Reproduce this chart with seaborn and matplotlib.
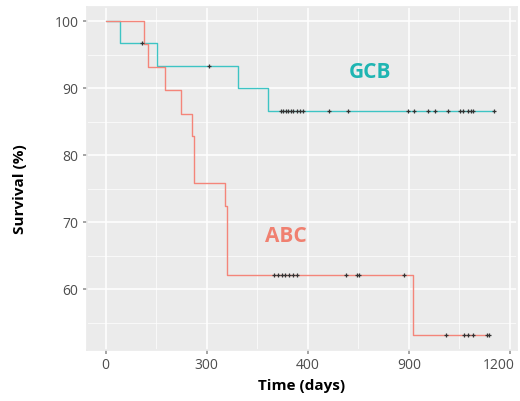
import numpy as np
import pandas as pd
import matplotlib
matplotlib.use("Agg")
import matplotlib.pyplot as plt
import matplotlib.transforms as mtransforms
import seaborn as sns

# Kaplan-Meier steps
gcb_time = [0, 42, 153, 392, 481, 1152]
gcb_surv = [100, 96.7, 93.3, 90.0, 86.6, 86.6]
gcb_cens = [107, 306, 520, 526, 535, 541, 549, 555, 567, 576, 585, 662, 719,
            897, 915, 956, 977, 1016, 1051, 1060, 1075, 1084, 1090, 1152]

abc_time = [0, 113, 125, 175, 223, 255, 261, 353, 359, 912, 1138]
abc_surv = [100, 96.6, 93.1, 89.7, 86.2, 82.8, 75.9, 72.4, 62.1, 53.1, 53.1]
abc_cens = [499, 511, 523, 532, 544, 556, 567, 713, 746, 752, 885,
            1010, 1063, 1075, 1090, 1132, 1138]

x_ticks = [0, 300, 600, 900, 1200]
x_labels = ['0', '300', '400', '900', '1200']
y_ticks = [60, 70, 80, 90, 100]

colors = {'GCB': '#3EC4C4', 'ABC': '#F4857A'}

sns.set_theme(style="darkgrid", rc={
    'axes.facecolor': '#EBEBEB',
    'grid.color': 'white',
    'axes.edgecolor': '#EBEBEB',
})
plt.rcParams['font.family'] = ['Open Sans', 'DejaVu Sans']

curves = pd.concat([
    pd.DataFrame({'group': 'GCB', 'time': gcb_time, 'surv': gcb_surv}),
    pd.DataFrame({'group': 'ABC', 'time': abc_time, 'surv': abc_surv}),
], ignore_index=True)


def censor_frame(name, times, steps_t, steps_s):
    idx = np.searchsorted(steps_t, times, side='right') - 1
    return pd.DataFrame({'group': name, 'time': times,
                         'surv': np.array(steps_s)[idx]})


cens = pd.concat([
    censor_frame('GCB', gcb_cens, gcb_time, gcb_surv),
    censor_frame('ABC', abc_cens, abc_time, abc_surv),
], ignore_index=True)

fig = plt.figure(figsize=(5.2, 4.01), dpi=100)
ax = fig.add_axes([0.167, 0.127, 0.827, 0.855])

sns.lineplot(data=curves, x='time', y='surv', hue='group', palette=colors,
             drawstyle='steps-post', estimator=None, sort=False,
             linewidth=1.0, legend=False, ax=ax)
sns.scatterplot(data=cens, x='time', y='surv', marker='+', color='#333333',
                s=10, linewidth=0.9, legend=False, ax=ax, zorder=3)

ax.set_xlim(-56, 1221)
ax.set_ylim(50.9, 102.1)
ax.set_xticks(x_ticks)
ax.set_xticklabels(x_labels)
ax.set_yticks(y_ticks)
ax.set_xticks([150, 450, 750, 1050], minor=True)
ax.set_yticks([55, 65, 75, 85, 95], minor=True)
ax.grid(which='major', color='white', linewidth=1.1)
ax.grid(which='minor', color='white', linewidth=0.5)
ax.tick_params(which='major', length=3, color='#9A9A9A', labelsize=10,
               labelcolor='#4D4D4D', bottom=True, left=True, pad=3)
ax.tick_params(which='minor', length=0)

# keep the last x label inside the figure
shift = mtransforms.ScaledTranslation(-8 / 72, 0, fig.dpi_scale_trans)
last = ax.get_xticklabels()[-1]
last.set_transform(last.get_transform() + shift)

ax.set_xlabel('Time (days)', fontsize=11, fontweight='bold', color='black')
ax.set_ylabel('Survival (%)', fontsize=11, fontweight='bold', color='black')
ax.yaxis.set_label_coords(-0.14, 0.47)

ax.text(784, 92.4, 'GCB', color='#1FB5B2', fontsize=15, fontweight='bold',
        ha='center', va='center')
ax.text(535, 67.8, 'ABC', color='#F08070', fontsize=15, fontweight='bold',
        ha='center', va='center')

fig.savefig('out.png', dpi=100)
